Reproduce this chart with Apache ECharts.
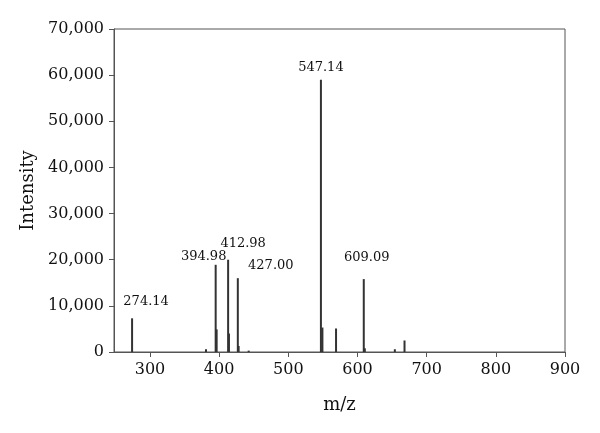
<!DOCTYPE html>
<html>
<head>
<meta charset="utf-8">
<script src="https://cdn.jsdelivr.net/npm/echarts@6/dist/echarts.min.js"></script>
<style>
  html, body { margin: 0; padding: 0; background: #fff; }
  #chart { width: 600px; height: 433px; }
</style>
</head>
<body>
<div id="chart"></div>
<script>
// peaks
const mzValues = [274.14, 381, 394.98, 396.4, 412.98, 414.2, 427.00, 428.2, 442.7, 547.14, 549.3, 569, 609.09, 610.6, 654, 668];
const intensities = [7300, 600, 18900, 4900, 20000, 4000, 16000, 1300, 300, 59000, 5300, 5100, 15800, 800, 600, 2500];
const labelledPeaks = ["274.14", "394.98", "412.98", "427.00", "547.14", "609.09"];
const xTicks = [300, 400, 500, 600, 700, 800, 900];

// label nudges (px), per labelled peak
const labelOffsets = {
  "274.14": [14, -4],
  "394.98": [-12, 4],
  "412.98": [15, -4],
  "427.00": [33, 0],
  "547.14": [0, 0],
  "609.09": [3, -9]
};

const font = "DejaVu Serif";
const ink = "#333";

const seriesData = mzValues.map(function (mz, i) {
  const name = mz.toFixed(2);
  const item = { value: [mz, intensities[i]] };
  if (labelledPeaks.indexOf(name) >= 0) {
    item.label = {
      show: true,
      position: "top",
      distance: 6,
      offset: labelOffsets[name],
      formatter: name,
      fontFamily: font,
      fontSize: 13,
      color: "#111"
    };
  }
  return item;
});

const chart = echarts.init(document.getElementById("chart"));
chart.setOption({
  animation: false,
  backgroundColor: "#fff",
  grid: {
    left: 114, right: 35, top: 29, bottom: 81,
    show: true, borderColor: "#555", borderWidth: 1
  },
  xAxis: {
    type: "value",
    min: 248,
    max: 900,
    name: "m/z",
    nameLocation: "middle",
    nameGap: 44,
    nameTextStyle: { fontFamily: font, fontSize: 18, color: "#111" },
    axisLine: { lineStyle: { color: "#555" } },
    axisTick: { show: true, length: 5, inside: false, customValues: xTicks, lineStyle: { color: "#555" } },
    axisLabel: { customValues: xTicks, fontFamily: font, fontSize: 16, color: "#111", margin: 10 },
    splitLine: { show: false }
  },
  yAxis: {
    type: "value",
    min: 0,
    max: 70000,
    interval: 10000,
    name: "Intensity",
    nameLocation: "middle",
    nameGap: 76,
    nameTextStyle: { fontFamily: font, fontSize: 18, color: "#111" },
    axisLine: { show: true, lineStyle: { color: "#555" } },
    axisTick: { show: true, length: 5, lineStyle: { color: "#555" } },
    axisLabel: {
      fontFamily: font, fontSize: 16, color: "#111", margin: 10,
      formatter: function (v) { return v.toLocaleString("en-US"); }
    },
    splitLine: { show: false }
  },
  series: [{
    type: "bar",
    barWidth: 2,
    itemStyle: { color: ink },
    data: seriesData
  }]
});
</script>
</body>
</html>
